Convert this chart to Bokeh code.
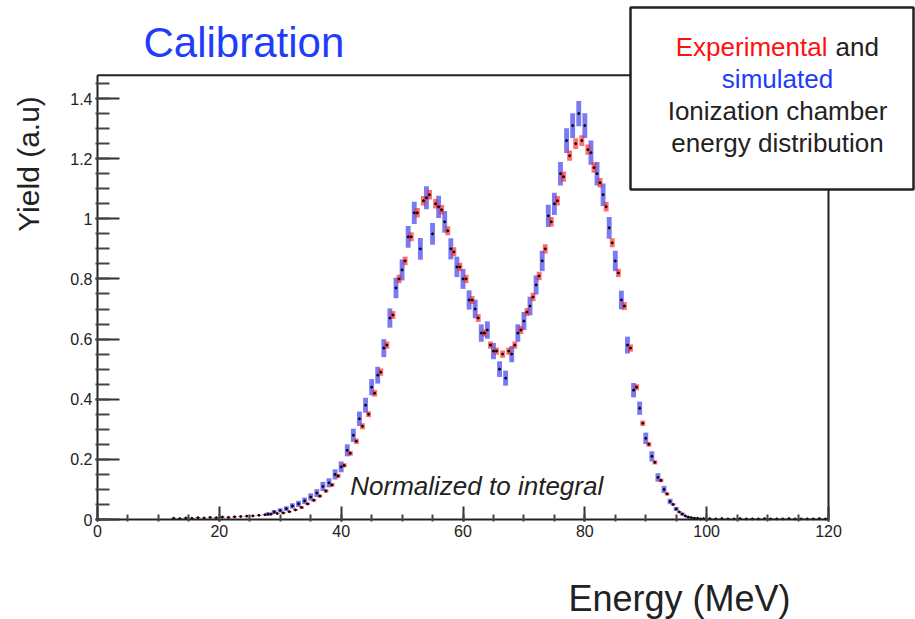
from math import pi
from bokeh.plotting import figure
from bokeh.layouts import row, column
from bokeh.models import (ColumnDataSource, FixedTicker, CustomJSTickFormatter,
                          Label, BoxAnnotation, Range1d)
from bokeh.embed import file_html
from bokeh.resources import INLINE

# ---------------- data ----------------
red_start = 12.5          # first bin centre (MeV), 1 MeV bins
red_yield = [
    0.004, 0.003, 0.005, 0.004, 0.006, 0.005, 0.007, 0.006, 0.008, 0.007,
    0.009, 0.010, 0.011, 0.012, 0.014, 0.016, 0.018, 0.020,
    0.022, 0.026, 0.032, 0.040, 0.052, 0.064, 0.078, 0.095, 0.115, 0.145,
    0.180, 0.220, 0.260, 0.310, 0.350, 0.420, 0.490, 0.580, 0.680, 0.800,
    0.860, 0.940, 1.020, 1.060, 1.080, 1.050, 1.030, 0.960, 0.890, 0.840,
    0.800, 0.730, 0.670, 0.620, 0.580, 0.560, 0.550, 0.560, 0.580, 0.630,
    0.690, 0.740, 0.810, 0.900, 0.990, 1.060, 1.140, 1.210, 1.250, 1.260,
    1.230, 1.170, 1.120, 1.040, 0.920, 0.820, 0.710, 0.570, 0.440, 0.320,
    0.250, 0.190, 0.130, 0.085, 0.050, 0.025, 0.012, 0.006, 0.004, 0.003,
    0.003, 0.002, 0.003, 0.002, 0.002, 0.003, 0.002, 0.002, 0.002, 0.003,
    0.002, 0.002, 0.002, 0.003, 0.002, 0.002, 0.002, 0.002, 0.003, 0.002,
]
red_err = [
    0.002, 0.002, 0.002, 0.002, 0.002, 0.002, 0.002, 0.002, 0.002, 0.002,
    0.002, 0.002, 0.002, 0.002, 0.002, 0.002, 0.002, 0.002,
    0.003, 0.003, 0.003, 0.004, 0.004, 0.005, 0.005, 0.006, 0.006, 0.007,
    0.007, 0.008, 0.009, 0.010, 0.010, 0.011, 0.012, 0.012, 0.013, 0.014,
    0.014, 0.015, 0.016, 0.016, 0.016, 0.016, 0.016, 0.015, 0.015, 0.014,
    0.014, 0.013, 0.013, 0.012, 0.012, 0.012, 0.012, 0.012, 0.012, 0.013,
    0.013, 0.014, 0.014, 0.015, 0.016, 0.016, 0.017, 0.017, 0.018, 0.018,
    0.017, 0.017, 0.016, 0.016, 0.015, 0.014, 0.013, 0.012, 0.010, 0.009,
    0.008, 0.007, 0.006, 0.005, 0.004, 0.003, 0.002, 0.002, 0.002, 0.002,
    0.002, 0.002, 0.002, 0.002, 0.002, 0.002, 0.002, 0.002, 0.002, 0.002,
    0.002, 0.002, 0.002, 0.002, 0.002, 0.002, 0.002, 0.002, 0.002, 0.002,
]
blue_start = 28.0
blue_yield = [
    0.018, 0.025, 0.030, 0.036, 0.045, 0.052, 0.062, 0.075, 0.088, 0.110,
    0.122, 0.150, 0.175, 0.230, 0.280, 0.335, 0.380, 0.440, 0.480, 0.570,
    0.670, 0.770, 0.830, 0.940, 1.020, 0.900, 1.070, 0.950, 1.040, 0.990,
    0.900, 0.840, 0.800, 0.730, 0.700, 0.620, 0.630, 0.560, 0.500, 0.470,
    0.550, 0.620, 0.660, 0.710, 0.780, 0.860, 1.010, 1.050, 1.150, 1.260,
    1.310, 1.350, 1.310, 1.220, 1.150, 1.080, 0.970, 0.860, 0.730, 0.580,
    0.430, 0.370, 0.270, 0.210, 0.140, 0.100, 0.060, 0.035, 0.018, 0.008,
    0.004, 0.002,
]
blue_err = [
    0.006, 0.007, 0.007, 0.008, 0.009, 0.010, 0.011, 0.012, 0.013, 0.015,
    0.015, 0.017, 0.018, 0.020, 0.022, 0.024, 0.025, 0.027, 0.028, 0.030,
    0.032, 0.034, 0.035, 0.036, 0.037, 0.036, 0.038, 0.036, 0.037, 0.036,
    0.035, 0.034, 0.033, 0.032, 0.031, 0.029, 0.029, 0.027, 0.026, 0.025,
    0.027, 0.029, 0.030, 0.031, 0.032, 0.034, 0.037, 0.037, 0.039, 0.041,
    0.041, 0.042, 0.041, 0.040, 0.039, 0.037, 0.036, 0.034, 0.031, 0.028,
    0.024, 0.022, 0.019, 0.017, 0.014, 0.012, 0.009, 0.007, 0.005, 0.004,
    0.003, 0.002,
]
x_ticks = [0, 20, 40, 60, 80, 100, 120]
x_minor = list(range(0, 121, 5))
y_ticks = [0, 0.2, 0.4, 0.6, 0.8, 1.0, 1.2, 1.4]
y_minor = [round(0.05 * i, 2) for i in range(30)]
x_max = 120          # histogram frame
y_max = 1.477

red_e = [red_start + i for i in range(len(red_yield))]
blue_e = [blue_start + i for i in range(len(blue_yield))]
red_src = ColumnDataSource(dict(x=red_e, y=red_yield, h=[2 * e for e in red_err]))
blue_src = ColumnDataSource(dict(x=blue_e, y=blue_yield, h=[2 * e for e in blue_err]))

FONT = "Liberation Sans"
DARK = "#222222"
BLUE = "#1e3cfa"
RED = "#ff1010"


def blank(width, height, xr, yr):
    f = figure(width=width, height=height, output_backend="svg",
               toolbar_location=None, x_range=xr, y_range=yr,
               x_axis_location=None, y_axis_location=None, min_border=0)
    f.title.visible = False
    f.xgrid.visible = False
    f.ygrid.visible = False
    f.grid.visible = False
    f.outline_line_color = None
    f.background_fill_color = "white"
    f.border_fill_color = "white"
    return f


# ---------------- main histogram figure ----------------
p = figure(width=855, height=545, output_backend="svg", toolbar_location=None,
           x_range=Range1d(-0.3283, 134.28), y_range=Range1d(-0.00665, 1.726),
           min_border_left=35, min_border_right=0, min_border_top=0,
           min_border_bottom=24)
p.title.visible = False
p.xgrid.visible = False
p.ygrid.visible = False
p.outline_line_color = None
p.background_fill_color = "white"
p.border_fill_color = "white"

p.rect(x="x", y="y", width=0.8, height="h", source=blue_src,
       fill_color="#2222ee", fill_alpha=0.6, line_color=None)
p.rect(x="x", y="y", width=0.8, height="h", source=red_src,
       fill_color="#ff2020", fill_alpha=0.65, line_color=None)
p.scatter(x="x", y="y", source=blue_src, size=2, color="black")
p.scatter(x="x", y="y", source=red_src, size=2, color="black")

# histogram frame
p.segment(x0=[0, 0, 0, x_max], y0=[0, 0, y_max, 0],
          x1=[x_max, 0, x_max, x_max], y1=[0, y_max, y_max, y_max],
          line_color=DARK, line_width=2)

for ax in (p.xaxis[0], p.yaxis[0]):
    ax.axis_line_color = None
    ax.major_tick_line_color = "#333333"
    ax.minor_tick_line_color = "#444444"
    ax.major_tick_line_width = 2
    ax.minor_tick_line_width = 2
    ax.major_tick_out = 0
    ax.minor_tick_out = 0
    ax.major_label_text_font = FONT
    ax.major_label_text_font_size = "16px"
    ax.major_label_text_color = DARK

p.xaxis.ticker = FixedTicker(ticks=x_ticks, minor_ticks=x_minor)
p.yaxis.ticker = FixedTicker(ticks=y_ticks, minor_ticks=y_minor)
p.xaxis.major_tick_in = 15
p.xaxis.minor_tick_in = 7
p.yaxis.major_tick_in = 24
p.yaxis.minor_tick_in = 14
p.xaxis.major_label_standoff = 3
p.yaxis.major_label_standoff = 3
fmt = CustomJSTickFormatter(code="return String(Number(tick.toFixed(2)));")
p.xaxis.formatter = fmt
p.yaxis.formatter = fmt

p.add_layout(Label(text="Normalized to integral", x=41.5, y=0.11,
                   text_font=FONT, text_font_size="26px", text_color=DARK,
                   text_font_style="italic", text_baseline="alphabetic"))

p.add_layout(Label(text="Calibration", x=83, y=42, x_units="canvas",
                   y_units="canvas", text_font=FONT, text_font_size="42px",
                   text_color=BLUE, text_baseline="alphabetic"))

p.add_layout(BoxAnnotation(left=570, right=853, top=7, bottom=189,
                           left_units="canvas", right_units="canvas",
                           top_units="canvas", bottom_units="canvas",
                           fill_color="white", fill_alpha=1.0,
                           line_color=DARK, line_alpha=1.0, line_width=2.5,
                           level="overlay"))
for lbl in [("Experimental", 767, 46, RED, "right"),
            ("and", 775, 46, DARK, "left"),
            ("simulated", 717, 78, BLUE, "center"),
            ("Ionization chamber", 717, 110, DARK, "center"),
            ("energy distribution", 717, 142, DARK, "center")]:
    p.add_layout(Label(text=lbl[0], x=lbl[1], y=lbl[2], x_units="canvas",
                       y_units="canvas", text_font=FONT, text_font_size="26px",
                       text_color=lbl[3], text_align=lbl[4],
                       text_baseline="alphabetic", level="overlay"))

# ---------------- y-axis title strip ----------------
left = blank(60, 545, Range1d(0, 60), Range1d(545, 0))
left.add_layout(Label(text="Yield (a.u)", x=28, y=171, text_font=FONT,
                      text_font_size="30px", text_color=DARK, angle=pi / 2,
                      text_align="center", text_baseline="alphabetic"))

# ---------------- x-axis title strip ----------------
bottom = blank(915, 74, Range1d(0, 915), Range1d(619, 545))
bottom.add_layout(Label(text="Energy (MeV)", x=679, y=598, text_font=FONT,
                        text_font_size="36px", text_color=DARK,
                        text_align="center", text_baseline="alphabetic"))

layout = column(row(left, p, spacing=0), bottom, spacing=0)
open("out.html", "w").write(file_html(layout, INLINE))
